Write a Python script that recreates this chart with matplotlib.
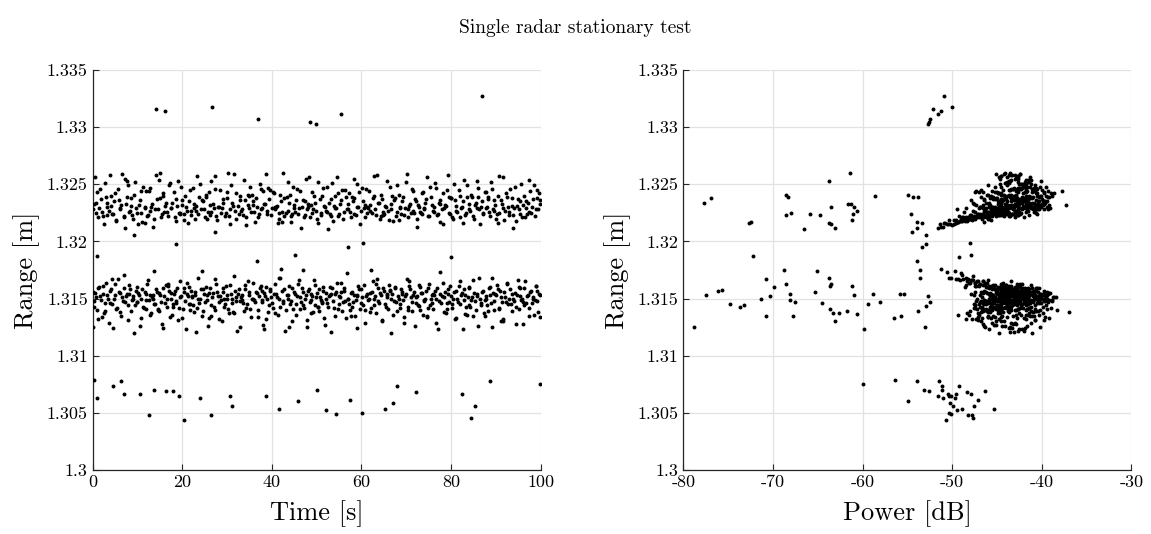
import matplotlib.pyplot as plt
import numpy as np
from matplotlib.ticker import FuncFormatter

# samples: time [s], range [mm], power [dB]

# upper return, around 1.323 m
up_time = [0.1, 0.5, 0.8, 1.2, 1.7, 2.0, 2.5, 2.9, 3.3, 3.8,
           4.2, 4.6, 5.0, 5.3, 5.9, 6.2, 6.6, 7.1, 7.4, 7.9,
           8.3, 8.6, 9.1, 9.5, 9.8, 10.3, 10.7, 11.0, 11.6, 11.9,
           12.3, 12.8, 13.1, 13.5, 14.0, 14.4, 14.7, 15.2, 15.6, 15.9,
           16.4, 16.8, 17.2, 17.6, 18.1, 18.5, 18.8, 19.3, 19.7, 20.0,
           20.5, 20.9, 21.3, 21.7, 22.0, 22.6, 22.9, 23.4, 23.8, 24.1,
           24.6, 25.0, 25.4, 25.8, 26.2, 26.5, 27.1, 27.4, 27.8, 28.3,
           28.7, 29.0, 29.5, 29.9, 30.3, 30.7, 31.2, 31.5, 31.9, 32.4,
           32.8, 33.1, 33.6, 34.0, 34.3, 34.8, 35.2, 35.7, 36.0, 36.5,
           36.9, 37.3, 37.6, 38.1, 38.5, 38.9, 39.2, 39.7, 40.1, 40.4,
           40.9, 41.3, 41.6, 42.1, 42.5, 42.8, 43.3, 43.7, 44.0, 44.5,
           44.9, 45.2, 45.7, 46.1, 46.4, 46.9, 47.3, 47.7, 48.0, 48.5,
           48.9, 49.2, 49.7, 50.1, 50.4, 50.9, 51.2, 51.7, 52.1, 52.4,
           52.9, 53.3, 53.6, 54.1, 54.5, 54.8, 55.3, 55.7, 56.0, 56.5,
           56.9, 57.2, 57.7, 58.1, 58.4, 58.9, 59.3, 59.6, 60.1, 60.5,
           60.8, 61.3, 61.7, 62.0, 62.5, 62.9, 63.2, 63.7, 64.1, 64.4,
           64.9, 65.3, 65.6, 66.1, 66.5, 66.8, 67.3, 67.7, 68.0, 68.5,
           68.9, 69.2, 69.7, 70.1, 70.4, 70.9, 71.3, 71.6, 72.1, 72.5,
           72.8, 73.3, 73.7, 74.0, 74.5, 74.9, 75.2, 75.7, 76.1, 76.4,
           76.9, 77.3, 77.6, 78.1, 78.5, 78.8, 79.3, 79.7, 80.0, 80.5,
           80.9, 81.2, 81.7, 82.1, 82.4, 82.9, 83.3, 83.6, 84.1, 84.5,
           84.8, 85.3, 85.7, 86.0, 86.5, 86.9, 87.2, 87.7, 88.1, 88.4,
           88.9, 89.3, 89.6, 90.1, 90.5, 90.8, 91.3, 91.7, 92.0, 92.5,
           92.9, 93.2, 93.7, 94.1, 94.4, 94.9, 95.3, 95.6, 96.1, 96.5,
           96.8, 97.3, 97.7, 98.0, 98.5, 98.9, 99.2, 99.6, 99.9]
up_range = [1322.8, 1325.6, 1323.4, 1322.1, 1324.6, 1322.6, 1321.5, 1323.9, 1322.3, 1325.8,
            1323.1, 1322.4, 1324.2, 1321.9, 1323.6, 1322.9, 1325.9, 1322.2, 1323.3, 1324.9,
            1322.7, 1323.8, 1322.0, 1325.2, 1322.5, 1323.2, 1324.4, 1321.7, 1322.9, 1324.4,
            1322.3, 1324.7, 1323.0, 1321.3, 1322.8, 1323.7, 1325.4, 1322.1, 1324.0, 1322.6,
            1323.4, 1322.2, 1325.1, 1322.9, 1324.3, 1321.8, 1323.1, 1322.5, 1324.8, 1323.6,
            1322.4, 1323.0, 1321.6, 1324.5, 1322.7, 1323.3, 1322.0, 1325.7, 1323.9, 1322.8,
            1323.5, 1322.1, 1324.1, 1322.6, 1323.2, 1325.3, 1322.9, 1324.6, 1321.9, 1323.0,
            1322.5, 1323.7, 1322.2, 1324.3, 1326.0, 1322.8, 1323.4, 1325.9, 1322.0, 1323.1,
            1324.0, 1322.7, 1322.3, 1323.6, 1321.4, 1322.9, 1324.8, 1323.2, 1322.6, 1323.8,
            1322.1, 1325.0, 1322.8, 1324.4, 1323.3, 1322.4, 1324.7, 1324.5, 1322.9, 1324.2,
            1323.0, 1321.6, 1322.5, 1323.5, 1326.0, 1322.2, 1323.9, 1322.7, 1324.1, 1322.4,
            1323.2, 1322.6, 1324.6, 1322.9, 1321.2, 1323.6, 1322.3, 1325.5, 1323.0, 1322.1,
            1324.3, 1322.8, 1323.4, 1322.0, 1325.2, 1322.5, 1324.0, 1323.1, 1322.7, 1324.8,
            1322.4, 1323.7, 1321.8, 1322.9, 1325.6, 1322.2, 1323.3, 1324.5, 1322.6, 1323.9,
            1322.8, 1324.2, 1322.1, 1323.5, 1322.4, 1325.0, 1323.0, 1321.5, 1324.7, 1322.9,
            1323.2, 1322.5, 1324.4, 1322.7, 1323.8, 1325.7, 1322.3, 1323.4, 1322.0, 1324.1,
            1322.6, 1323.1, 1325.3, 1321.9, 1322.8, 1324.0, 1323.6, 1322.2, 1324.9, 1323.0,
            1322.4, 1323.9, 1322.9, 1325.9, 1322.1, 1323.3, 1324.6, 1322.7, 1323.5, 1321.3,
            1323.0, 1322.5, 1324.3, 1322.8, 1323.7, 1322.2, 1324.8, 1323.2, 1322.6, 1325.1,
            1322.3, 1323.4, 1321.7, 1324.2, 1322.9, 1323.1, 1325.8, 1322.4, 1323.8, 1322.0,
            1323.6, 1322.7, 1324.5, 1322.1, 1323.0, 1325.4, 1322.5, 1323.9, 1322.8, 1324.1,
            1322.2, 1323.2, 1322.9, 1324.7, 1321.5, 1323.5, 1322.4, 1324.3, 1323.0, 1322.6,
            1325.2, 1322.8, 1323.6, 1322.0, 1324.0, 1322.5, 1323.3, 1325.6, 1322.7, 1323.9,
            1322.3, 1324.6, 1323.1, 1322.9, 1321.8, 1323.7, 1322.4, 1325.0, 1323.2, 1322.1,
            1323.5, 1322.6, 1324.4, 1323.0, 1324.9, 1322.8, 1323.8, 1324.2, 1323.3]
up_power = [-44.1, -41.3, -46.2, -43.0, -40.5, -48.7, -49.8, -42.2, -45.5, -43.6,
            -42.8, -47.1, -44.6, -50.3, -41.9, -45.0, -44.2, -43.7, -39.8, -46.0,
            -41.5, -45.8, -48.1, -42.6, -44.9, -40.2, -47.3, -46.4, -43.3, -37.7,
            -44.7, -43.1, -46.9, -51.2, -40.8, -45.4, -41.7, -47.8, -39.5, -43.9,
            -42.4, -49.2, -44.0, -41.1, -46.5, -48.3, -43.8, -40.6, -45.2, -44.5,
            -46.7, -42.0, -50.8, -40.9, -44.3, -47.6, -45.9, -42.9, -41.4, -39.3,
            -43.4, -48.9, -46.1, -42.5, -44.8, -40.1, -47.0, -43.2, -45.7, -41.8,
            -44.4, -42.3, -46.6, -39.7, -43.5, -49.5, -41.6, -45.1, -47.4, -40.4,
            -43.0, -45.3, -42.7, -47.9, -50.0, -41.0, -44.6, -37.3, -46.3, -42.1,
            -48.2, -41.2, -44.0, -45.6, -40.7, -43.7, -42.4, -46.8, -39.1, -44.9,
            -45.9, -49.6, -43.6, -41.7, -44.1, -47.2, -40.3, -42.6, -46.0, -44.2,
            -39.9, -45.4, -42.8, -48.5, -51.6, -43.1, -41.4, -44.7, -46.9, -42.0,
            -45.0, -40.8, -47.7, -49.0, -43.9, -42.3, -38.8, -45.8, -44.4, -41.9,
            -43.3, -46.4, -48.6, -41.2, -42.7, -45.1, -40.0, -44.3, -47.5, -43.0,
            -41.6, -44.8, -46.2, -39.4, -43.8, -42.2, -45.6, -50.5, -40.9, -44.0,
            -47.3, -42.5, -41.0, -45.3, -43.4, -44.6, -48.0, -39.6, -46.7, -42.9,
            -44.9, -41.5, -43.7, -47.8, -40.4, -45.7, -42.1, -44.2, -41.8, -46.5,
            -43.2, -39.2, -45.5, -42.4, -48.8, -44.0, -40.6, -46.3, -43.9, -51.0,
            -41.3, -44.5, -47.0, -42.6, -45.2, -43.5, -40.2, -46.6, -41.7, -44.1,
            -42.9, -45.9, -49.4, -38.6, -44.7, -42.0, -43.0, -47.1, -41.1, -46.0,
            -44.3, -40.7, -43.6, -48.4, -45.4, -41.5, -42.8, -46.8, -39.8, -44.6,
            -45.8, -43.3, -41.9, -42.2, -50.2, -44.9, -40.5, -47.5, -43.1, -45.1,
            -41.4, -44.2, -46.4, -47.7, -40.1, -43.7, -42.5, -44.8, -45.6, -39.3,
            -42.7, -43.4, -41.2, -45.3, -48.9, -44.0, -46.1, -42.3, -40.8, -47.2,
            -44.4, -43.8, -41.6, -46.7, -43.9, -40.3, -45.0, -42.1, -44.7]

up2_time = [0.3, 0.7, 1.0, 1.5, 1.9, 2.3, 2.7, 3.1, 3.6, 4.0,
            4.4, 4.8, 5.1, 5.6, 6.0, 6.4, 6.9, 7.3, 7.7, 8.1,
            8.5, 8.8, 9.3, 9.7, 10.1, 10.5, 10.9, 11.3, 11.7, 12.1,
            12.5, 12.9, 13.3, 13.7, 14.2, 14.6, 15.0, 15.4, 15.8, 16.2,
            16.6, 17.0, 17.4, 17.8, 18.3, 18.7, 19.1, 19.5, 19.9, 20.3,
            20.7, 21.1, 21.5, 21.9, 22.3, 22.7, 23.1, 23.6, 24.0, 24.4,
            24.8, 25.2, 25.6, 26.0, 26.4, 26.8, 27.2, 27.6, 28.0, 28.5,
            28.9, 29.2, 29.7, 30.1, 30.5, 30.9, 31.3, 31.7, 32.1, 32.6,
            33.0, 33.4, 33.8, 34.2, 34.6, 35.0, 35.4, 35.9, 36.3, 36.7,
            37.1, 37.5, 37.9, 38.3, 38.7, 39.0, 39.4, 39.9, 40.3, 40.7,
            41.1, 41.5, 41.9, 42.3, 42.7, 43.1, 43.5, 43.9, 44.3, 44.7,
            45.0, 45.5, 45.9, 46.3, 46.7, 47.1, 47.5, 47.9, 48.3, 48.7,
            49.0, 49.4, 49.9, 50.3, 50.7, 51.0, 51.4, 51.9, 52.3, 52.7,
            53.1, 53.5, 53.9, 54.3, 54.7, 55.1, 55.5, 55.9, 56.3, 56.7,
            57.0, 57.5, 57.9, 58.3, 58.7, 59.1, 59.5, 59.8, 60.3, 60.7,
            61.1, 61.5, 61.9, 62.3, 62.7, 63.0, 63.5, 63.9, 64.3, 64.7,
            65.1, 65.5, 65.9, 66.3, 66.7, 67.1, 67.5, 67.9, 68.3, 68.7,
            69.0, 69.5, 69.9, 70.3, 70.7, 71.1, 71.5, 71.9, 72.3, 72.7,
            73.1, 73.5, 73.9, 74.3, 74.7, 75.0, 75.5, 75.9, 76.3, 76.7,
            77.1, 77.5, 77.9, 78.3, 78.7, 79.1, 79.5, 79.9, 80.3, 80.7,
            81.0, 81.4, 81.9, 82.3, 82.7, 83.1, 83.5, 83.9, 84.3, 84.7,
            85.1, 85.5, 85.8, 86.2, 86.7, 87.1, 87.5, 87.9, 88.3, 88.6,
            89.1, 89.5, 89.9, 90.3, 90.7, 91.1, 91.5, 91.9, 92.3, 92.7,
            93.0, 93.5, 93.9, 94.3, 94.7, 95.1, 95.5, 95.8, 96.3, 96.7,
            97.1, 97.5, 97.9, 98.3, 98.7, 99.1, 99.4, 99.8]
up2_range = [1323.3, 1322.5, 1324.3, 1322.9, 1323.7, 1322.2, 1325.1, 1323.0, 1322.7, 1324.0,
             1322.4, 1323.5, 1321.8, 1324.6, 1322.8, 1323.2, 1322.1, 1325.5, 1323.9, 1322.6,
             1323.1, 1322.3, 1324.1, 1322.9, 1321.5, 1323.6, 1322.5, 1324.8, 1323.0, 1322.2,
             1324.4, 1322.7, 1323.3, 1322.0, 1325.8, 1322.8, 1323.8, 1322.4, 1324.2, 1323.1,
             1322.6, 1324.9, 1322.9, 1323.4, 1322.1, 1323.7, 1325.3, 1322.5, 1323.2, 1321.9,
             1324.0, 1322.7, 1323.5, 1322.3, 1324.7, 1322.9, 1323.1, 1322.4, 1325.0, 1323.6,
             1322.8, 1323.9, 1322.0, 1324.3, 1322.6, 1323.3, 1325.7, 1322.2, 1323.0, 1324.5,
             1322.9, 1323.4, 1322.5, 1323.8, 1322.2, 1324.9, 1323.1, 1322.7, 1324.2, 1322.4,
             1323.6, 1322.8, 1325.4, 1322.1, 1323.2, 1324.0, 1322.6, 1323.5, 1321.7, 1323.0,
             1322.4, 1324.6, 1322.9, 1323.3, 1325.9, 1322.7, 1323.7, 1322.3, 1324.3, 1322.8,
             1323.1, 1322.0, 1324.1, 1322.6, 1323.8, 1322.5, 1325.2, 1323.4, 1322.2, 1324.8,
             1322.9, 1323.6, 1322.4, 1324.4, 1323.0, 1322.1, 1323.5, 1322.8, 1325.6, 1323.2,
             1322.5, 1324.0, 1322.7, 1321.6, 1323.7, 1322.3, 1324.7, 1323.0, 1322.6, 1323.4,
             1322.2, 1325.1, 1323.1, 1322.9, 1324.2, 1322.4, 1323.6, 1322.0, 1324.5, 1322.8,
             1323.3, 1322.6, 1323.9, 1325.5, 1322.3, 1323.0, 1324.3, 1322.7, 1323.5, 1322.1,
             1324.6, 1322.9, 1323.2, 1322.5, 1324.0, 1322.8, 1325.8, 1323.4, 1322.2, 1323.7,
             1322.4, 1323.0, 1322.7, 1324.8, 1323.3, 1321.8, 1323.8, 1322.6, 1324.1, 1322.9,
             1323.5, 1322.3, 1325.2, 1322.8, 1323.1, 1322.5, 1324.4, 1323.7, 1322.0, 1323.2,
             1322.6, 1324.2, 1322.9, 1323.4, 1325.6, 1322.2, 1323.9, 1322.7, 1323.0, 1324.7,
             1322.4, 1323.6, 1322.8, 1321.5, 1323.2, 1324.5, 1322.5, 1323.8, 1322.1, 1325.0,
             1323.1, 1322.6, 1324.0, 1322.9, 1323.5, 1322.3, 1324.9, 1323.3, 1322.7, 1323.9,
             1322.0, 1323.4, 1325.3, 1322.8, 1323.0, 1322.5, 1324.3, 1322.9, 1323.7, 1322.2,
             1324.6, 1322.7, 1323.2, 1322.4, 1325.7, 1323.6, 1322.9, 1321.9, 1324.2, 1323.0,
             1322.6, 1323.8, 1322.3, 1324.8, 1323.1, 1322.8, 1323.5, 1322.1, 1324.0, 1322.9,
             1323.4, 1325.4, 1322.5, 1323.7, 1322.2, 1324.5, 1322.8, 1323.6]
up2_power = [-42.6, -45.3, -41.1, -44.8, -43.2, -47.6, -41.9, -40.7, -46.3, -43.9,
             -44.5, -39.9, -49.1, -42.3, -45.7, -41.4, -46.8, -43.0, -44.1, -42.8,
             -40.4, -47.9, -43.4, -44.0, -50.6, -42.0, -45.5, -41.6, -43.7, -46.1,
             -39.3, -44.6, -42.7, -48.5, -43.3, -41.0, -45.1, -42.4, -44.9, -40.3,
             -46.2, -42.1, -43.8, -40.9, -47.3, -44.3, -41.7, -42.9, -45.8, -49.6,
             -43.1, -45.0, -39.6, -44.4, -42.5, -46.6, -41.3, -43.6, -44.7, -40.6,
             -42.2, -45.4, -48.0, -41.8, -44.2, -43.0, -42.7, -46.9, -40.1, -43.5,
             -45.6, -41.5, -44.0, -42.8, -47.0, -40.8, -43.9, -45.2, -39.0, -44.3,
             -42.9, -44.6, -41.2, -46.5, -43.4, -40.5, -45.3, -42.0, -49.3, -44.1,
             -46.0, -43.2, -41.6, -44.9, -42.4, -47.7, -40.0, -43.7, -41.9, -45.5,
             -42.6, -48.4, -44.2, -40.9, -43.0, -45.8, -41.5, -44.5, -46.7, -39.5,
             -43.6, -42.2, -45.1, -41.0, -44.4, -47.5, -40.3, -43.9, -42.8, -45.9,
             -44.0, -41.8, -46.4, -50.9, -42.5, -44.8, -40.6, -43.3, -45.6, -41.4,
             -47.1, -43.7, -42.1, -44.7, -39.8, -45.4, -43.1, -48.2, -41.7, -44.3,
             -40.4, -46.0, -43.5, -42.6, -44.9, -41.2, -45.2, -43.0, -42.3, -47.8,
             -41.1, -44.2, -43.8, -45.7, -40.2, -42.7, -43.4, -41.8, -46.6, -44.6,
             -43.3, -39.4, -45.3, -42.0, -44.1, -49.0, -41.3, -46.3, -43.6, -42.4,
             -44.8, -47.2, -41.9, -43.2, -40.7, -45.0, -42.9, -44.3, -48.7, -41.6,
             -46.1, -40.5, -44.5, -42.2, -43.9, -46.8, -41.0, -45.4, -43.4, -42.7,
             -44.0, -41.7, -45.6, -51.3, -42.9, -40.0, -44.7, -43.1, -47.4, -42.5,
             -43.7, -45.9, -41.4, -44.3, -39.7, -46.5, -42.1, -44.6, -43.0, -41.2,
             -48.1, -42.8, -43.5, -45.1, -40.9, -44.2, -42.6, -46.2, -41.8, -45.5,
             -42.4, -44.0, -39.2, -46.9, -44.5, -41.5, -43.2, -49.8, -40.6, -45.2,
             -43.8, -42.0, -45.8, -41.3, -43.6, -44.8, -40.4, -47.0, -42.9, -44.4,
             -41.1, -43.4, -45.4, -42.3, -46.4, -40.8, -43.9, -42.6]

# lower return, around 1.315 m
lo_time = [0.0, 0.3, 0.7, 1.1, 1.4, 1.9, 2.2, 2.6, 3.0, 3.5,
           3.8, 4.1, 4.5, 4.9, 5.2, 5.6, 6.0, 6.3, 6.7, 7.0,
           7.4, 7.8, 8.1, 8.5, 8.9, 9.2, 9.6, 9.9, 10.3, 10.7,
           11.0, 11.4, 11.8, 12.1, 12.5, 12.8, 13.2, 13.6, 13.9, 14.3,
           14.6, 15.0, 15.4, 15.7, 16.1, 16.5, 16.8, 17.2, 17.5, 17.9,
           18.3, 18.6, 19.0, 19.4, 19.7, 20.1, 20.4, 20.8, 21.1, 21.5,
           21.8, 22.2, 22.6, 22.9, 23.3, 23.6, 24.0, 24.4, 24.7, 25.1,
           25.5, 25.8, 26.2, 26.5, 26.9, 27.3, 27.6, 28.0, 28.3, 28.7,
           29.0, 29.4, 29.8, 30.1, 30.5, 30.8, 31.2, 31.6, 31.9, 32.3,
           32.6, 33.0, 33.4, 33.7, 34.1, 34.4, 34.8, 35.2, 35.5, 35.9,
           36.2, 36.6, 37.0, 37.3, 37.7, 38.0, 38.4, 38.8, 39.1, 39.5,
           39.9, 40.2, 40.6, 40.9, 41.3, 41.7, 42.0, 42.4, 42.7, 43.1,
           43.5, 43.8, 44.2, 44.5, 44.9, 45.3, 45.6, 46.0, 46.3, 46.7,
           47.0, 47.4, 47.8, 48.1, 48.5, 48.8, 49.2, 49.6, 49.9, 50.3,
           50.6, 51.0, 51.4, 51.7, 52.1, 52.4, 52.8, 53.2, 53.5, 53.9,
           54.2, 54.6, 55.0, 55.3, 55.7, 56.0, 56.4, 56.8, 57.1, 57.5,
           57.8, 58.2, 58.6, 58.9, 59.3, 59.6, 60.0, 60.4, 60.7, 61.1,
           61.4, 61.8, 62.2, 62.5, 62.9, 63.2, 63.6, 64.0, 64.3, 64.7,
           65.0, 65.4, 65.8, 66.1, 66.5, 66.8, 67.2, 67.6, 67.9, 68.3,
           68.6, 69.0, 69.4, 69.7, 70.1, 70.4, 70.8, 71.2, 71.5, 71.9,
           72.2, 72.6, 73.0, 73.3, 73.7, 74.0, 74.4, 74.8, 75.1, 75.5,
           75.8, 76.2, 76.6, 76.9, 77.3, 77.6, 78.0, 78.4, 78.7, 79.1,
           79.4, 79.8, 80.2, 80.5, 80.9, 81.2, 81.6, 82.0, 82.3, 82.7,
           83.0, 83.4, 83.8, 84.1, 84.5, 84.8, 85.2, 85.6, 85.9, 86.3,
           86.6, 87.0, 87.4, 87.7, 88.1, 88.4, 88.8, 89.2, 89.5, 89.9,
           90.2, 90.6, 91.0, 91.3, 91.7, 92.0, 92.4, 92.8, 93.1, 93.5,
           93.8, 94.2, 94.6, 94.9, 95.3, 95.6, 96.0, 96.4, 96.7, 97.1,
           97.4, 97.8, 98.2, 98.5, 98.9, 99.2, 99.6, 99.9]
lo_range = [1315.6, 1314.3, 1315.1, 1313.2, 1316.0, 1314.9, 1315.4, 1313.7, 1316.4, 1315.0,
            1314.6, 1315.8, 1312.4, 1315.3, 1314.1, 1316.7, 1315.5, 1313.5, 1314.8, 1315.9,
            1315.2, 1314.4, 1316.2, 1313.9, 1315.0, 1312.0, 1315.7, 1314.7, 1315.3, 1313.3,
            1315.8, 1314.2, 1315.4, 1316.3, 1314.9, 1313.6, 1315.1, 1317.4, 1314.5, 1315.6,
            1314.0, 1315.3, 1312.8, 1315.9, 1314.6, 1315.0, 1316.1, 1313.4, 1315.5, 1314.3,
            1315.7, 1314.8, 1313.1, 1316.5, 1315.2, 1314.1, 1315.9, 1312.3, 1315.4, 1316.0,
            1314.5, 1315.1, 1313.8, 1315.6, 1314.2, 1316.8, 1315.0, 1313.5, 1315.8, 1314.7,
            1315.3, 1312.6, 1315.9, 1314.4, 1315.5, 1314.0, 1316.3, 1315.2, 1313.2, 1314.9,
            1315.6, 1314.3, 1316.1, 1315.0, 1313.7, 1315.4, 1314.6, 1317.0, 1315.1, 1312.2,
            1315.8, 1314.8, 1315.3, 1313.9, 1316.2, 1314.5, 1315.6, 1314.1, 1315.0, 1316.4,
            1314.7, 1315.5, 1313.4, 1315.9, 1314.9, 1312.7, 1315.2, 1316.0, 1313.8, 1315.7,
            1315.1, 1314.2, 1316.3, 1315.4, 1313.6, 1315.0, 1317.6, 1314.6, 1315.8, 1314.0,
            1315.3, 1316.1, 1314.8, 1313.0, 1315.6, 1314.5, 1315.2, 1316.6, 1314.1, 1315.9,
            1314.4, 1315.0, 1312.5, 1315.7, 1314.7, 1315.4, 1313.8, 1316.2, 1315.1, 1314.3,
            1315.8, 1314.9, 1316.0, 1313.3, 1315.5, 1314.6, 1315.2, 1312.1, 1315.9, 1314.2,
            1315.4, 1316.4, 1314.5, 1315.1, 1313.9, 1315.7, 1314.8, 1317.2, 1315.0, 1314.0,
            1315.6, 1314.7, 1313.5, 1315.3, 1316.1, 1314.1, 1315.8, 1314.4, 1312.9, 1315.2,
            1314.9, 1315.5, 1314.2, 1316.5, 1315.0, 1313.7, 1315.9, 1314.6, 1315.3, 1313.1,
            1315.7, 1314.3, 1315.1, 1316.2, 1312.0, 1315.4, 1314.8, 1315.9, 1313.9, 1315.0,
            1314.5, 1315.6, 1313.4, 1315.2, 1316.7, 1314.0, 1315.8, 1314.7, 1315.3, 1312.6,
            1315.1, 1314.4, 1316.0, 1315.5, 1313.6, 1314.9, 1315.7, 1314.2, 1316.3, 1315.0,
            1314.6, 1315.3, 1312.9, 1315.9, 1314.8, 1317.3, 1315.2, 1313.8, 1315.6, 1314.1,
            1315.4, 1316.1, 1314.5, 1315.0, 1313.2, 1315.7, 1314.7, 1316.5, 1315.3, 1312.3,
            1315.8, 1314.3, 1315.1, 1316.0, 1314.9, 1313.5, 1315.5, 1314.0, 1315.2, 1316.8,
            1314.6, 1315.6, 1313.7, 1315.0, 1314.4, 1315.9, 1315.3, 1312.5, 1314.8, 1315.4,
            1316.2, 1314.1, 1315.7, 1314.7, 1313.0, 1315.1, 1316.4, 1314.5, 1315.8, 1313.9,
            1315.0, 1315.5, 1314.3, 1316.6, 1315.2, 1314.9, 1312.8, 1315.9, 1314.6, 1315.3,
            1314.2, 1315.7, 1315.0, 1313.6, 1316.1, 1314.8, 1315.4, 1313.4]
lo_power = [-43.2, -45.8, -41.7, -47.3, -44.9, -39.6, -43.8, -42.5, -46.1, -44.3,
            -42.0, -45.1, -43.6, -40.8, -46.6, -48.2, -44.0, -41.3, -38.9, -43.5,
            -44.6, -47.5, -42.7, -40.4, -45.3, -44.8, -41.8, -43.0, -46.9, -39.2,
            -42.2, -45.0, -40.1, -44.4, -43.3, -48.1, -41.5, -49.7, -46.2, -43.7,
            -38.3, -44.7, -42.9, -41.1, -45.7, -40.7, -47.0, -43.9, -42.6, -44.1,
            -46.4, -41.9, -39.8, -43.4, -45.5, -47.2, -42.3, -45.9, -40.2, -44.2,
            -43.1, -38.7, -46.8, -41.4, -44.5, -50.1, -43.6, -40.9, -45.2, -42.4,
            -47.6, -41.6, -43.0, -39.5, -44.6, -46.0, -42.8, -40.6, -48.4, -43.8,
            -41.0, -44.9, -45.4, -42.1, -39.9, -43.7, -46.5, -47.7, -44.0, -42.7,
            -43.4, -40.3, -45.6, -48.0, -41.2, -43.9, -39.4, -45.8, -42.4, -46.3,
            -44.1, -42.9, -47.1, -40.5, -43.2, -45.1, -41.7, -44.7, -36.9, -42.0,
            -46.7, -43.5, -42.2, -44.4, -49.3, -40.0, -51.2, -45.3, -41.4, -43.0,
            -42.6, -45.7, -39.7, -44.2, -47.4, -41.8, -43.6, -46.0, -40.7, -44.8,
            -45.0, -42.4, -46.3, -40.9, -43.8, -47.9, -41.0, -44.0, -38.6, -45.5,
            -43.3, -41.5, -48.6, -42.8, -44.6, -46.6, -40.4, -43.1, -45.9, -42.1,
            -39.3, -44.3, -47.0, -43.7, -41.2, -45.1, -42.5, -49.0, -44.9, -40.2,
            -46.2, -43.9, -45.4, -41.6, -42.7, -44.5, -40.6, -47.5, -43.4, -45.8,
            -42.0, -44.8, -39.0, -46.5, -43.1, -48.3, -41.9, -44.1, -45.6, -40.8,
            -43.5, -46.9, -42.3, -45.2, -41.1, -44.4, -47.3, -40.3, -43.8, -42.6,
            -45.7, -41.3, -39.6, -44.0, -48.8, -42.9, -45.0, -43.2, -40.0, -46.4,
            -42.1, -44.7, -43.0, -46.1, -41.7, -38.8, -44.2, -47.6, -42.4, -45.3,
            -40.5, -43.6, -45.5, -42.8, -46.8, -50.6, -41.4, -44.3, -43.9, -39.4,
            -44.6, -45.9, -42.2, -40.7, -47.8, -43.3, -41.0, -46.6, -44.8, -42.5,
            -41.6, -45.2, -43.7, -44.1, -39.2, -46.0, -42.7, -44.9, -40.9, -48.5,
            -43.1, -42.0, -47.1, -45.6, -41.8, -44.5, -40.1, -43.5, -46.3, -42.9,
            -44.0, -46.7, -41.5, -43.4, -45.1, -38.4, -47.4, -42.3, -44.4, -40.6,
            -43.0, -45.0, -41.2, -49.1, -42.8, -44.6, -46.5, -43.8, -40.3, -45.4,
            -42.4, -44.2, -39.7, -47.0, -43.6, -41.9, -45.7, -44.5]

lo2_time = [0.2, 0.5, 0.9, 1.3, 1.6, 2.0, 2.4, 2.8, 3.2, 3.6,
            3.9, 4.3, 4.7, 5.0, 5.4, 5.8, 6.1, 6.5, 6.9, 7.2,
            7.6, 7.9, 8.3, 8.7, 9.0, 9.4, 9.8, 10.1, 10.5, 10.9,
            11.2, 11.6, 12.0, 12.3, 12.7, 13.0, 13.4, 13.8, 14.1, 14.5,
            14.8, 15.2, 15.6, 15.9, 16.3, 16.7, 17.0, 17.4, 17.7, 18.1,
            18.5, 18.8, 19.2, 19.6, 19.9, 20.3, 20.6, 21.0, 21.3, 21.7,
            22.0, 22.4, 22.8, 23.1, 23.5, 23.8, 24.2, 24.6, 24.9, 25.3,
            25.6, 26.0, 26.4, 26.7, 27.1, 27.4, 27.8, 28.2, 28.5, 28.9,
            29.2, 29.6, 30.0, 30.3, 30.7, 31.0, 31.4, 31.8, 32.1, 32.5,
            32.8, 33.2, 33.6, 33.9, 34.3, 34.6, 35.0, 35.4, 35.7, 36.1,
            36.4, 36.8, 37.2, 37.5, 37.9, 38.2, 38.6, 39.0, 39.3, 39.7,
            40.0, 40.4, 40.8, 41.1, 41.5, 41.8, 42.2, 42.6, 42.9, 43.3,
            43.6, 44.0, 44.4, 44.7, 45.1, 45.4, 45.8, 46.2, 46.5, 46.9,
            47.2, 47.6, 47.9, 48.3, 48.7, 49.0, 49.4, 49.7, 50.1, 50.5,
            50.8, 51.2, 51.5, 51.9, 52.2, 52.6, 53.0, 53.3, 53.7, 54.0,
            54.4, 54.8, 55.1, 55.5, 55.9, 56.2, 56.6, 56.9, 57.3, 57.7,
            58.0, 58.4, 58.7, 59.1, 59.5, 59.8, 60.2, 60.5, 60.9, 61.3,
            61.6, 62.0, 62.3, 62.7, 63.1, 63.4, 63.8, 64.1, 64.5, 64.9,
            65.2, 65.6, 65.9, 66.3, 66.7, 67.0, 67.4, 67.7, 68.1, 68.5,
            68.8, 69.2, 69.5, 69.9, 70.3, 70.6, 71.0, 71.3, 71.7, 72.1,
            72.4, 72.8, 73.1, 73.5, 73.9, 74.2, 74.6, 74.9, 75.3, 75.7,
            76.0, 76.4, 76.7, 77.1, 77.5, 77.8, 78.2, 78.5, 78.9, 79.3,
            79.6, 80.0, 80.3, 80.7, 81.1, 81.4, 81.8, 82.1, 82.5, 82.9,
            83.2, 83.6, 83.9, 84.3, 84.7, 85.0, 85.4, 85.7, 86.1, 86.5,
            86.8, 87.2, 87.5, 87.9, 88.3, 88.6, 89.0, 89.3, 89.7, 90.1,
            90.4, 90.8, 91.1, 91.5, 91.9, 92.2, 92.6, 92.9, 93.3, 93.7,
            94.0, 94.4, 94.7, 95.1, 95.5, 95.8, 96.2, 96.5, 96.9, 97.3,
            97.6, 98.0, 98.3, 98.7, 99.1, 99.4, 99.8]
lo2_range = [1314.8, 1315.5, 1314.0, 1315.9, 1315.2, 1313.4, 1316.1, 1314.6, 1315.3, 1312.9,
             1315.7, 1314.5, 1315.0, 1316.3, 1314.2, 1315.6, 1313.8, 1315.1, 1317.1, 1314.7,
             1315.4, 1313.1, 1315.8, 1314.9, 1315.2, 1314.4, 1316.0, 1315.5, 1312.6, 1315.0,
             1314.3, 1315.6, 1314.9, 1316.6, 1315.3, 1313.7, 1315.0, 1314.5, 1315.8, 1314.1,
             1315.5, 1314.7, 1312.4, 1315.2, 1316.2, 1314.3, 1315.7, 1315.0, 1313.6, 1315.4,
             1314.6, 1315.9, 1314.2, 1315.1, 1313.3, 1315.6, 1314.8, 1316.4, 1315.2, 1314.0,
             1315.7, 1314.4, 1315.3, 1312.1, 1315.0, 1314.6, 1315.8, 1313.9, 1315.4, 1316.0,
             1314.9, 1315.5, 1313.5, 1315.1, 1314.3, 1316.7, 1315.6, 1314.7, 1315.2, 1313.0,
             1315.9, 1314.5, 1315.3, 1314.1, 1316.2, 1315.0, 1313.8, 1315.7, 1314.8, 1315.4,
             1312.5, 1315.1, 1314.6, 1315.8, 1314.2, 1316.5, 1315.3, 1313.4, 1315.0, 1314.9,
             1315.6, 1314.0, 1315.2, 1316.1, 1314.7, 1315.5, 1313.2, 1315.0, 1314.4, 1315.8,
             1314.6, 1315.4, 1313.7, 1315.1, 1316.8, 1314.3, 1315.7, 1314.8, 1312.2, 1315.3,
             1315.0, 1314.5, 1315.9, 1314.1, 1315.4, 1313.6, 1316.3, 1315.1, 1314.7, 1315.6,
             1314.2, 1315.3, 1313.1, 1315.8, 1314.9, 1315.2, 1316.6, 1314.4, 1315.5, 1313.9,
             1315.1, 1314.6, 1315.7, 1312.7, 1315.0, 1314.3, 1316.0, 1315.4, 1314.8, 1313.5,
             1315.6, 1314.1, 1315.2, 1316.4, 1314.7, 1315.9, 1313.3, 1315.0, 1314.5, 1315.5,
             1314.3, 1315.3, 1314.9, 1312.4, 1315.8, 1314.6, 1315.1, 1316.2, 1314.0, 1315.4,
             1315.0, 1313.8, 1315.6, 1314.4, 1315.2, 1316.7, 1314.8, 1315.5, 1313.0, 1315.9,
             1314.5, 1315.3, 1314.1, 1315.7, 1315.0, 1313.6, 1316.0, 1314.7, 1315.2, 1314.2,
             1315.8, 1314.9, 1312.9, 1315.4, 1314.3, 1316.5, 1315.1, 1313.9, 1315.6, 1314.6,
             1315.2, 1316.2, 1314.0, 1315.5, 1314.8, 1315.0, 1313.4, 1315.9, 1314.4, 1315.3,
             1314.1, 1315.7, 1315.0, 1312.3, 1315.4, 1314.6, 1316.4, 1315.1, 1313.7, 1315.8,
             1314.7, 1315.2, 1314.2, 1315.6, 1313.3, 1315.0, 1316.1, 1314.5, 1315.5, 1314.9,
             1315.3, 1313.6, 1315.9, 1314.3, 1315.1, 1316.6, 1314.8, 1315.4, 1312.6, 1315.0,
             1314.4, 1315.7, 1314.9, 1315.2, 1313.9, 1316.0, 1314.6, 1315.5, 1314.0, 1315.3,
             1315.8, 1314.2, 1315.1, 1313.2, 1315.6, 1314.7, 1316.3, 1315.0, 1314.5, 1315.4,
             1314.8, 1312.8, 1315.3, 1314.1, 1315.9, 1315.0, 1314.4, 1316.5, 1315.2, 1313.5,
             1315.6, 1314.6, 1315.1, 1314.9, 1315.7, 1313.8, 1315.3]
lo2_power = [-44.8, -42.4, -46.3, -40.6, -43.9, -45.2, -47.4, -41.8, -44.1, -43.0,
             -39.7, -45.6, -42.9, -44.5, -41.4, -46.8, -43.6, -40.3, -48.9, -44.2,
             -42.7, -47.1, -44.7, -41.2, -45.5, -43.3, -46.1, -39.1, -44.4, -42.0,
             -43.8, -41.0, -45.9, -47.8, -42.6, -44.9, -40.5, -46.4, -43.1, -41.6,
             -45.1, -42.8, -41.9, -44.0, -46.6, -39.9, -43.4, -47.2, -42.3, -44.6,
             -41.3, -43.7, -45.4, -40.1, -46.7, -42.5, -44.3, -48.0, -43.0, -45.8,
             -42.2, -44.9, -39.4, -43.5, -41.7, -46.0, -43.2, -40.8, -45.0, -44.4,
             -42.9, -46.5, -41.1, -44.2, -43.6, -49.4, -40.4, -45.3, -42.1, -44.6,
             -43.9, -41.5, -45.7, -42.7, -47.0, -39.6, -44.8, -42.4, -46.2, -43.3,
             -40.2, -44.0, -42.6, -45.2, -41.4, -48.3, -43.8, -46.0, -40.9, -44.5,
             -42.8, -45.5, -43.1, -47.3, -39.3, -44.1, -41.8, -45.9, -42.3, -43.6,
             -46.6, -41.2, -44.7, -42.5, -50.3, -43.4, -40.6, -45.0, -42.0, -44.2,
             -43.0, -47.6, -41.5, -44.6, -39.8, -42.9, -46.3, -43.7, -45.4, -41.9,
             -44.3, -42.2, -40.7, -45.6, -43.3, -41.0, -47.9, -44.8, -42.7, -46.1,
             -39.5, -44.4, -43.5, -45.3, -41.6, -46.7, -42.4, -44.0, -40.4, -43.2,
             -45.0, -42.6, -43.8, -47.5, -41.3, -44.7, -42.0, -45.7, -43.1, -39.2,
             -44.6, -41.4, -46.4, -43.3, -42.8, -40.1, -45.2, -48.4, -43.6, -41.8,
             -42.3, -45.8, -44.1, -40.8, -43.0, -49.6, -42.5, -44.9, -46.8, -41.1,
             -43.5, -39.8, -45.1, -42.9, -44.3, -41.5, -46.2, -43.1, -42.0, -47.4,
             -44.0, -42.4, -41.2, -45.9, -43.7, -47.1, -40.5, -44.5, -42.7, -46.5,
             -43.3, -45.4, -41.7, -44.2, -39.6, -43.9, -46.0, -42.1, -44.7, -41.0,
             -45.6, -42.6, -44.4, -42.2, -40.9, -43.6, -48.1, -44.8, -41.4, -43.0,
             -46.9, -41.6, -44.0, -42.8, -45.7, -39.4, -43.4, -44.6, -41.9, -46.4,
             -43.2, -40.3, -44.9, -42.3, -45.3, -47.7, -43.8, -41.3, -44.1, -42.9,
             -45.0, -42.0, -43.6, -40.7, -46.6, -44.3, -41.7, -45.8, -43.4, -39.7,
             -43.1, -45.5, -42.5, -44.8, -41.1, -43.7, -46.9, -40.2, -44.6, -42.2,
             -44.0, -43.2, -41.5, -46.2, -43.5, -45.1, -42.8, -47.2, -40.6, -44.4,
             -42.4, -45.7, -43.9, -41.3, -44.5, -46.0, -42.7]

# weak returns scattered between and around the two bands
sp_time = [3.1, 58.4, 11.7, 44.2, 1.0, 26.3, 71.8, 35.5, 88.2, 52.6,
           19.4, 64.9, 7.6, 40.8, 82.7, 30.6, 93.9, 15.1, 48.0, 77.5,
           61.2, 23.0, 97.0, 68.3, 54.1, 34.7, 86.1, 79.6, 73.6, 42.3,
           27.2, 90.4, 7.2, 9.3, 18.7, 56.9, 60.3, 45.1, 80.1,
           0.0, 13.4, 37.9, 66.3, 21.6, 50.2, 84.0, 29.3, 74.6, 4.3,
           59.0, 95.2, 46.9, 16.9, 69.1, 33.3, 87.5, 9.9, 55.4, 24.3,
           79.0, 41.8, 63.3, 99.0, 12.0, 48.7, 91.2, 31.5, 70.6, 2.7,
           53.0, 83.1, 38.2, 18.0, 65.7, 96.1, 26.0, 57.6, 8.2, 76.0,
           36.6, 62.1, 89.1, 14.9, 43.9, 72.9, 22.1, 51.3]
sp_range = [1323.4, 1323.8, 1321.6, 1321.7, 1318.7, 1322.3, 1322.5, 1324.1, 1323.9, 1321.1,
            1322.4, 1322.3, 1325.3, 1323.0, 1321.6, 1321.5, 1321.2, 1326.0, 1323.3, 1323.3,
            1323.0, 1322.7, 1322.4, 1321.9, 1324.0, 1324.1, 1323.9, 1323.9, 1322.4, 1321.7,
            1320.8, 1321.6, 1321.2, 1320.6, 1319.8, 1319.5, 1319.9, 1318.8, 1318.6,
            1312.5, 1315.3, 1315.7, 1315.75, 1314.5, 1314.3, 1314.4, 1315.0, 1313.45, 1316.7,
            1315.2, 1316.0, 1317.5, 1316.3, 1315.4, 1314.9, 1313.45, 1314.7, 1315.6, 1317.4,
            1314.6, 1316.8, 1316.3, 1316.1, 1314.1, 1313.7, 1313.0, 1313.7, 1316.1, 1313.9,
            1315.3, 1313.65, 1312.3, 1314.5, 1315.4, 1314.7, 1313.3, 1313.5, 1315.4, 1315.4,
            1318.3, 1317.5, 1316.8, 1313.9, 1312.5, 1314.35, 1315.2, 1314.7]
sp_power = [-77.71, -76.96, -72.68, -72.47, -72.25, -68.51, -67.97, -68.51, -68.29, -66.58,
            -65.83, -64.76, -63.69, -63.47, -63.69, -63.47, -63.04, -61.44, -61.65, -61.33,
            -60.90, -60.58, -61.12, -61.22, -58.65, -54.91, -54.37, -53.84, -54.59, -53.94,
            -54.48, -53.41, -53.94, -52.87, -52.87, -53.41, -48.06, -47.84, -49.23,
            -78.84, -77.50, -76.16, -75.68, -74.82, -73.64, -73.22, -71.29, -70.75, -70.75,
            -70.32, -69.89, -68.82, -68.56, -68.07, -68.07, -67.75, -67.50, -65.34, -65.08,
            -64.54, -63.79, -63.52, -63.63, -63.58, -63.26, -63.04, -62.61, -61.22, -61.76,
            -60.90, -60.58, -59.83, -59.40, -58.81, -58.06, -56.51, -55.76, -55.83, -55.34,
            -53.94, -53.58, -53.62, -53.84, -52.98, -52.87, -52.66, -52.45]

# outliers above 1.33 m
hi_time = [14.2, 16.2, 26.7, 37.0, 48.6, 49.8, 55.5, 86.9]
hi_range = [1331.56, 1331.37, 1331.79, 1330.69, 1330.47, 1330.25, 1331.12, 1332.70]
hi_power = [-52.12, -51.27, -50.04, -52.45, -52.55, -52.71, -51.59, -50.95]

# ghost return around 1.306 m
gh_time = [20.4, 84.4, 12.5, 26.5, 54.3, 60.2, 52.2, 41.5, 65.2, 31.1, 85.3,
           67.0, 45.8, 57.4, 24.0, 0.89, 19.2, 30.7, 38.6, 82.5, 7.1, 10.6,
           72.1, 16.4, 17.9, 13.7, 50.1, 4.5, 67.9, 99.9, 88.6, 6.4, 0.37]
gh_range = [1304.40, 1304.52, 1304.81, 1304.81, 1304.90, 1304.99, 1305.22, 1305.36, 1305.36, 1305.60, 1305.63,
            1305.89, 1306.01, 1306.10, 1306.30, 1306.33, 1306.45, 1306.45, 1306.45, 1306.62, 1306.68, 1306.68,
            1306.85, 1306.91, 1306.91, 1307.03, 1307.03, 1307.38, 1307.38, 1307.52, 1307.79, 1307.82, 1307.87]
gh_power = [-50.70, -47.63, -47.74, -48.27, -50.09, -50.30, -49.50, -48.91, -45.35, -49.88, -47.52,
            -50.25, -54.97, -47.09, -49.66, -51.00, -50.09, -51.63, -50.30, -47.84, -50.48, -49.55,
            -48.38, -46.34, -52.60, -53.15, -51.16, -51.16, -49.23, -59.99, -51.48, -53.94, -56.41]

time = np.concatenate([up_time, up2_time, lo_time, lo2_time, sp_time, hi_time, gh_time])
rng = np.concatenate([up_range, up2_range, lo_range, lo2_range,
                      sp_range, hi_range, gh_range]) / 1000.0
power = np.concatenate([up_power, up2_power, lo_power, lo2_power, sp_power, hi_power, gh_power])

plt.rcParams.update({
    'font.family': 'serif',
    'font.serif': ['cmr10', 'DejaVu Serif'],
    'mathtext.fontset': 'cm',
    'axes.unicode_minus': False,
    'axes.formatter.use_mathtext': True,
})

fig = plt.figure(figsize=(11.51, 5.34), dpi=100)
ax1 = fig.add_axes([0.0805, 0.1199, 0.3892, 0.749])
ax2 = fig.add_axes([0.5937, 0.1199, 0.3892, 0.749])

fmt = FuncFormatter(lambda v, _: f'{round(v, 4):g}')

for ax, x, xlim, xticks, xlabel in [
        (ax1, time, (0, 100), np.arange(0, 101, 20), 'Time [s]'),
        (ax2, power, (-80, -30), np.arange(-80, -29, 10), 'Power [dB]')]:
    ax.scatter(x, rng, s=8, c='black', linewidths=0, zorder=3)
    ax.set_xlim(*xlim)
    ax.set_ylim(1.3, 1.335)
    ax.set_xticks(xticks)
    ax.set_yticks(np.arange(1.3, 1.33501, 0.005))
    ax.yaxis.set_major_formatter(fmt)
    ax.xaxis.set_major_formatter(fmt)
    ax.grid(True, color='#e2e2e2', linewidth=0.9)
    ax.set_axisbelow(True)
    for side in ['top', 'right']:
        ax.spines[side].set_visible(False)
    for side in ['left', 'bottom']:
        ax.spines[side].set_color('#262626')
        ax.spines[side].set_linewidth(0.9)
    ax.tick_params(direction='in', length=4, width=0.8, labelsize=13, colors='#262626')
    ax.tick_params(labelcolor='black')
    ax.set_xlabel(xlabel, fontsize=19, labelpad=7)
    ax.set_ylabel('Range [m]', fontsize=19, labelpad=5)

fig.suptitle('Single radar stationary test', fontsize=14, y=0.965)

fig.savefig('out.png', dpi=100)
